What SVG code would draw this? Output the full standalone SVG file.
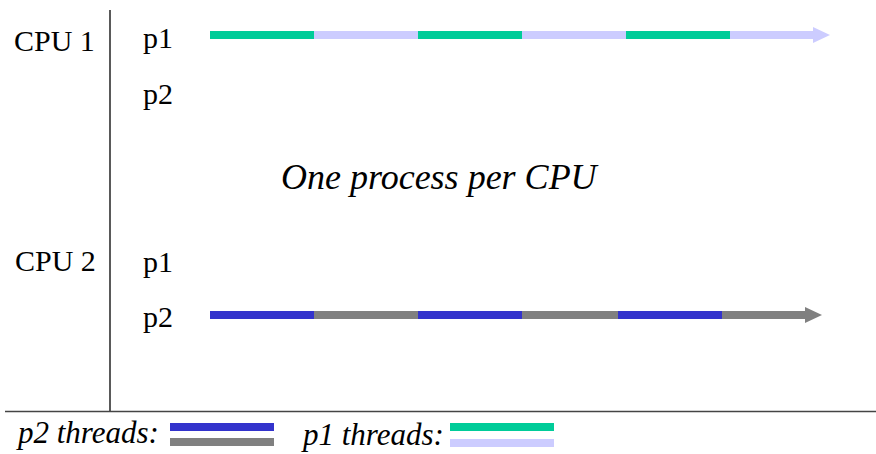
<svg xmlns="http://www.w3.org/2000/svg" width="876" height="454" viewBox="0 0 876 454">
<rect width="876" height="454" fill="#fff"/>
<text x="14" y="51" font-size="30" font-family="Liberation Serif">CPU 1</text>
<text x="143" y="48" font-size="30" font-family="Liberation Serif">p1</text>
<text x="143" y="104" font-size="30" font-family="Liberation Serif">p2</text>
<text x="15" y="271" font-size="30" font-family="Liberation Serif">CPU 2</text>
<text x="143" y="272" font-size="30" font-family="Liberation Serif">p1</text>
<text x="143" y="327" font-size="30" font-family="Liberation Serif">p2</text>
<text x="281" y="189" font-size="36" font-family="Liberation Serif" font-style="italic">One process per CPU</text>
<text x="18" y="443" font-size="31" font-family="Liberation Serif" font-style="italic">p2 threads:</text>
<text x="303" y="445" font-size="31" font-family="Liberation Serif" font-style="italic">p1 threads:</text>
<g id="axes">
<line x1="110" y1="10" x2="110" y2="411" stroke="#000" stroke-width="1.3"/>
<line x1="5" y1="411.5" x2="876" y2="411.5" stroke="#444" stroke-width="1.6"/>
</g>
<g id="legend" stroke-width="8">
<line x1="170" y1="427" x2="274" y2="427" stroke="#3333CC"/>
<line x1="170" y1="442" x2="274" y2="442" stroke="#808080"/>
<line x1="450" y1="427" x2="554" y2="427" stroke="#00CC99"/>
<line x1="450" y1="443" x2="554" y2="443" stroke="#CCCCFF"/>
</g>
<g id="connectors" stroke-width="8">
<g stroke="#00CC99">
<line x1="210" y1="35" x2="314" y2="35"/>
<line x1="418" y1="35" x2="522" y2="35"/>
<line x1="626" y1="35" x2="730" y2="35"/>
</g>
<g stroke="#CCCCFF">
<line x1="314" y1="35" x2="418" y2="35"/>
<line x1="522" y1="35" x2="626" y2="35"/>
<line x1="730" y1="35" x2="814" y2="35"/>
</g>
<polygon points="813,27 830,35 813,43" fill="#CCCCFF" stroke="none"/>
<g stroke="#3333CC">
<line x1="210" y1="315" x2="314" y2="315"/>
<line x1="418" y1="315" x2="522" y2="315"/>
<line x1="618" y1="315" x2="722" y2="315"/>
</g>
<g stroke="#808080">
<line x1="314" y1="315" x2="418" y2="315"/>
<line x1="522" y1="315" x2="618" y2="315"/>
<line x1="722" y1="315" x2="806" y2="315"/>
</g>
<polygon points="805,307 822,315 805,323" fill="#808080" stroke="none"/>
</g>
</svg>
